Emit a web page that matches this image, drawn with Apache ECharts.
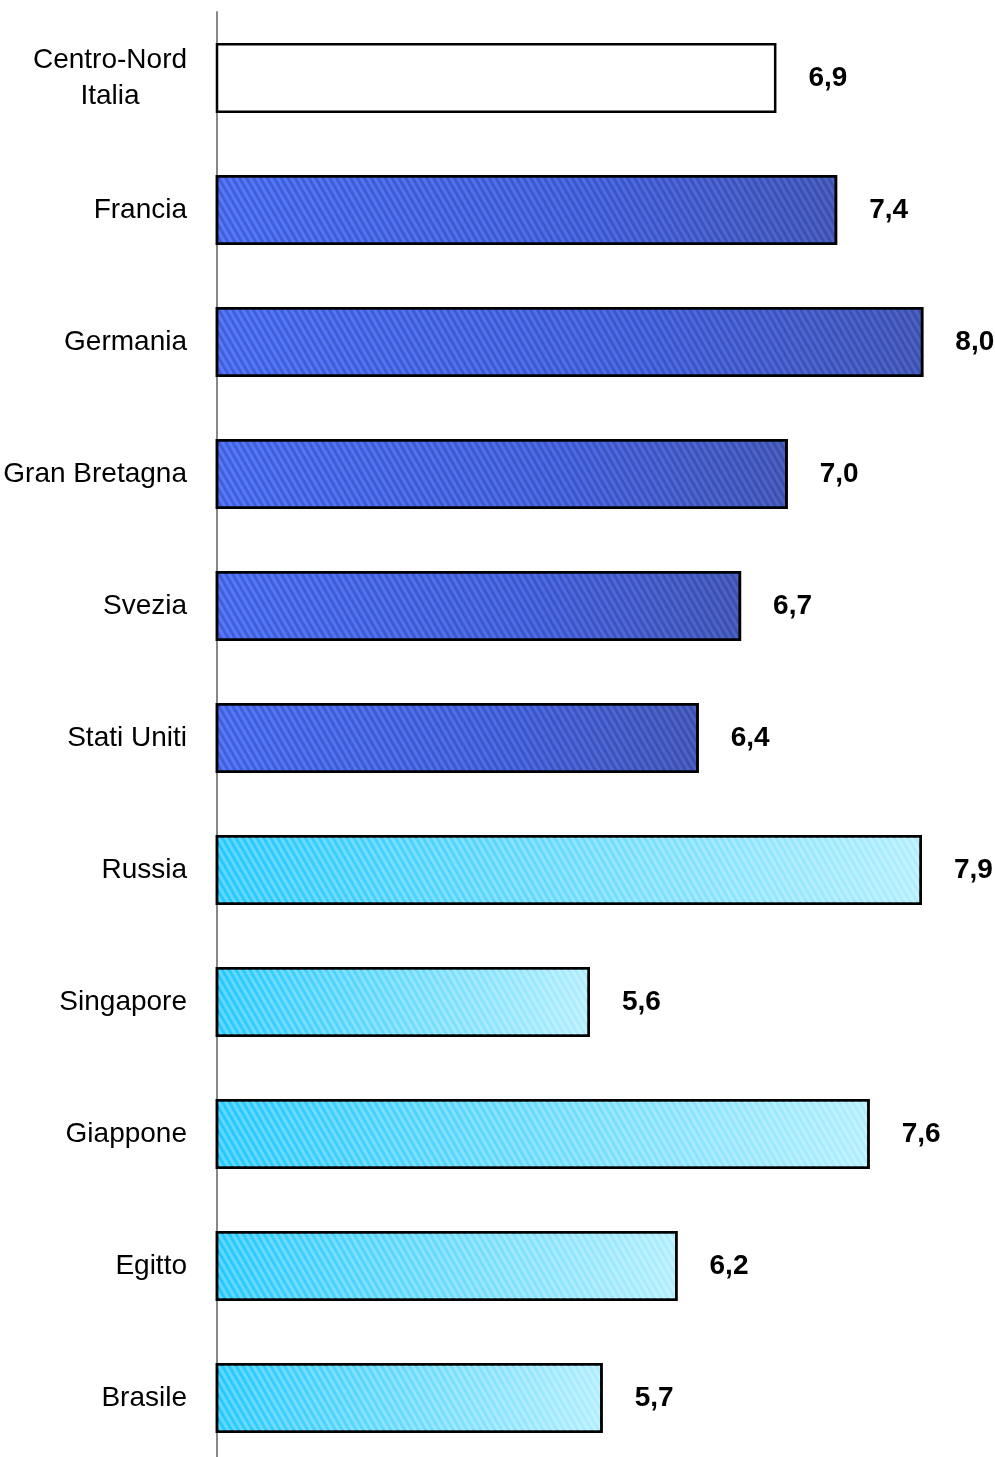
<!DOCTYPE html>
<html>
<head>
<meta charset="utf-8">
<script src="https://cdn.jsdelivr.net/npm/echarts@6/dist/echarts.min.js"></script>
<style>
html,body{margin:0;padding:0;background:#fff;}
#chart{width:995px;height:1457px;}
</style>
</head>
<body>
<div id="chart"></div>
<script>
var categories = ['Centro-Nord\nItalia','Francia','Germania','Gran Bretagna','Svezia','Stati Uniti','Russia','Singapore','Giappone','Egitto','Brasile'];
var values = [6.96, 7.39, 8.0, 7.04, 6.71, 6.41, 7.99, 5.64, 7.62, 6.26, 5.73];
var valueLabels = ['6,9','7,4','8,0','7,0','6,7','6,4','7,9','5,6','7,6','6,2','5,7'];
var groups = ['italia','avanzati','avanzati','avanzati','avanzati','avanzati','emergenti','emergenti','emergenti','emergenti','emergenti'];

var styles = {
  italia: { color: '#ffffff' },
  avanzati: {
    color: { type: 'linear', x: 0, y: 0, x2: 1, y2: 0.2, colorStops: [
      { offset: 0, color: '#5479ff' }, { offset: 0.6, color: '#4d6cea' }, { offset: 1, color: '#4c62c4' } ] },
    decal: { symbol: 'rect', symbolSize: 1, dashArrayX: [[1, 0]], dashArrayY: [3, 3], rotation: Math.PI / 3, color: 'rgba(25,35,120,0.3)' }
  },
  emergenti: {
    color: { type: 'linear', x: 0, y: 0, x2: 1, y2: 0.6, colorStops: [
      { offset: 0, color: '#22c8ff' }, { offset: 1, color: '#b0eeff' } ] },
    decal: { symbol: 'rect', symbolSize: 1, dashArrayX: [[1, 0]], dashArrayY: [3, 3], rotation: Math.PI / 3, color: 'rgba(255,255,255,0.28)' }
  }
};

var data = values.map(function (v, i) {
  var s = styles[groups[i]];
  var it = { color: s.color, borderColor: '#000', borderWidth: 2.5 };
  if (s.decal) it.decal = s.decal;
  return { value: v, itemStyle: it };
});

var labelFont = 'Liberation Sans, Arial, sans-serif';

var chart = echarts.init(document.getElementById('chart'), null, { renderer: 'canvas' });
chart.setOption({
  animation: false,
  backgroundColor: '#ffffff',
  grid: { left: 217, width: 777, top: 12, height: 1452, containLabel: false, outerBoundsMode: 'none' },
  xAxis: { type: 'value', min: 3, max: 8.5, show: false },
  yAxis: {
    type: 'category', data: categories, inverse: true,
    axisLine: { show: true, lineStyle: { color: '#888888', width: 2 } },
    axisTick: { show: false },
    splitLine: { show: false },
    axisLabel: {
      fontSize: 28, color: '#000', fontFamily: labelFont, margin: 30, lineHeight: 36, align: 'right',
      formatter: function (v) {
        if (v.indexOf('\n') >= 0) {
          return v.split('\n').map(function (s) { return '{c|' + s + '}'; }).join('\n');
        }
        return v;
      },
      rich: { c: { width: 154, align: 'center', fontSize: 28, lineHeight: 36, color: '#000', fontFamily: labelFont } }
    }
  },
  series: [{
    type: 'bar',
    data: data,
    barWidth: 70,
    label: {
      show: true, position: 'right', distance: 32,
      fontSize: 28, fontWeight: 'bold', color: '#000', fontFamily: labelFont,
      formatter: function (p) { return valueLabels[p.dataIndex]; }
    }
  }]
});
</script>
</body>
</html>
